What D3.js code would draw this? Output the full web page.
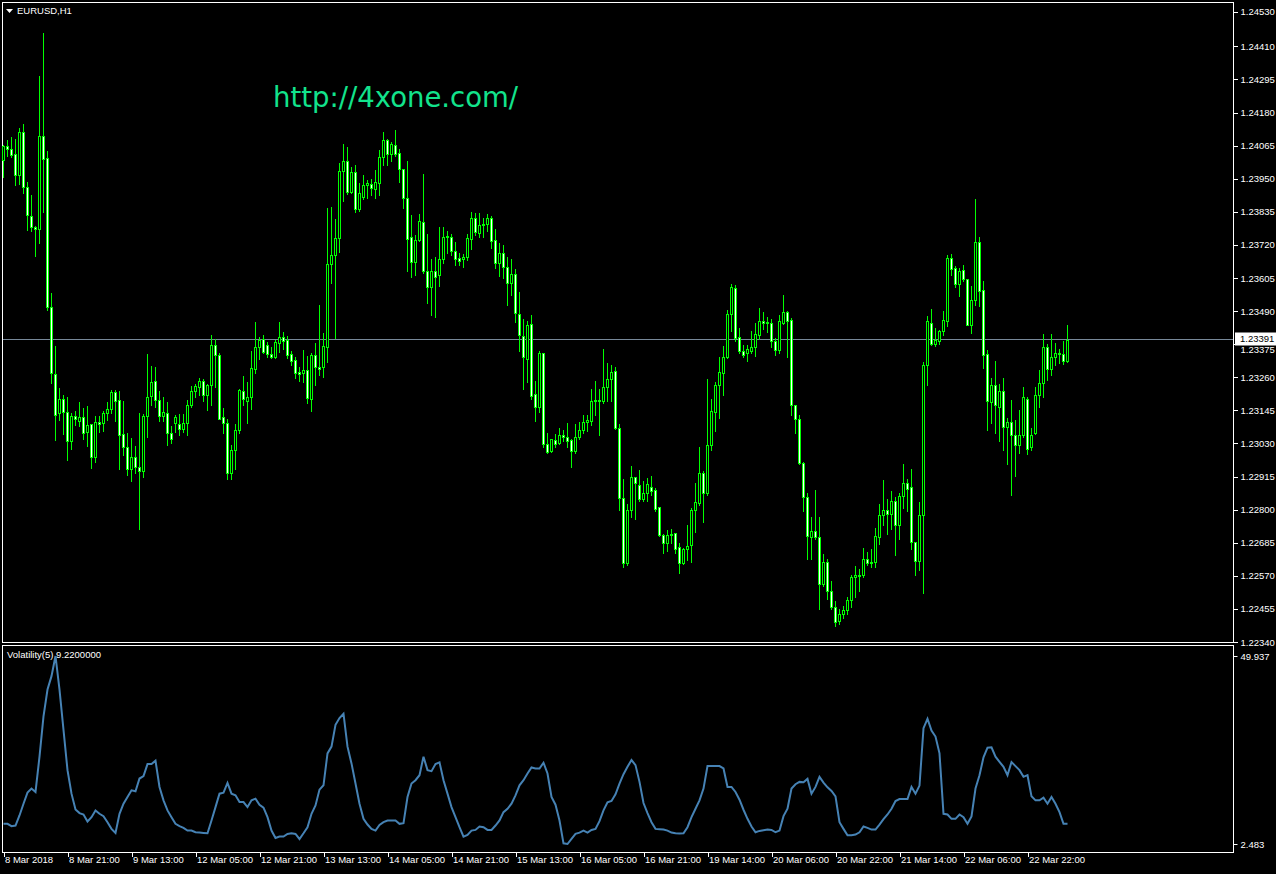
<!DOCTYPE html>
<html lang="en">
<head>
    <meta charset="UTF-8">
    <title>EURUSD,H1</title>
    <script src="https://d3js.org/d3.v7.min.js"></script>
    <style>
        body{margin: 0; background: #000}
        svg text{font-family: "Liberation Sans", Arial, sans-serif; font-size: 9.5px; fill: #fff}
        svg .frame{fill: none; stroke: #fff; stroke-width: 1}
        svg .wick{stroke: #00ff00; stroke-width: 1}
        svg .vol{fill: none; stroke: #4682b4; stroke-width: 2}
        svg .axis line{stroke: #fff}
        svg .axis path{display: none}
    </style>
</head>
<body>
    <svg></svg>
    <script>
        var symbol = 'EURUSD,H1'
        var indicatorName = 'Volatility(5) 9.2200000'
        var currentPrice = 1.23391

        var opens = [
            1.24015,1.24064,1.24054,1.24036,1.23962,1.24112,1.23922,1.23820,1.23783,1.23776,
            1.24098,1.24022,1.23505,1.23271,1.23135,1.23183,1.23139,1.23040,1.23125,1.23107,
            1.23121,1.23070,1.23098,1.22984,1.23105,1.23100,1.23135,1.23149,1.23209,1.23181,
            1.23063,1.23017,1.22942,1.22982,1.22947,1.22933,1.23125,1.23195,1.23246,1.23181,
            1.23125,1.23137,1.23065,1.23100,1.23098,1.23081,1.23102,1.23163,1.23211,1.23225,
            1.23246,1.23197,1.23232,1.23371,1.23336,1.23121,1.23100,1.22926,1.23007,1.23077,
            1.23211,1.23179,1.23190,1.23288,1.23364,1.23392,1.23371,1.23341,1.23332,1.23380,
            1.23399,1.23390,1.23341,1.23320,1.23278,1.23276,1.23285,1.23186,1.23336,1.23297,
            1.23297,1.23366,1.23654,1.23684,1.23744,1.23976,1.24011,1.23904,1.23973,1.23846,
            1.23888,1.23929,1.23932,1.23915,1.23936,1.24024,1.24085,1.24036,1.24066,1.24038,
            1.23983,1.23883,1.23746,1.23661,1.23737,1.23800,1.23628,1.23575,1.23628,1.23614,
            1.23670,1.23746,1.23749,1.23698,1.23674,1.23672,1.23677,1.23742,1.23813,1.23760,
            1.23788,1.23793,1.23813,1.23737,1.23656,1.23691,1.23642,1.23589,1.23619,1.23480,
            1.23403,1.23325,1.23445,1.23202,1.23158,1.23343,1.23028,1.23003,1.23042,1.23033,
            1.23058,1.23054,1.23042,1.23005,1.23054,1.23077,1.23105,1.23109,1.23177,1.23181,
            1.23179,1.23225,1.23253,1.23281,1.23084,1.22840,1.22614,1.22799,1.22912,1.22887,
            1.22838,1.22857,1.22878,1.22868,1.22808,1.22713,1.22685,1.22711,1.22718,1.22669,
            1.22616,1.22662,1.22676,1.22799,1.22824,1.22928,1.22857,1.23024,1.23139,1.23232,
            1.23276,1.23329,1.23480,1.23570,1.23399,1.23350,1.23343,1.23352,1.23364,1.23406,
            1.23455,1.23450,1.23450,1.23385,1.23355,1.23450,1.23487,1.23459,1.23163,1.23114,
            1.22963,1.22843,1.22706,1.22727,1.22706,1.22542,1.22618,1.22516,1.22461,1.22412,
            1.22437,1.22451,1.22486,1.22565,1.22574,1.22572,1.22630,1.22614,1.22618,1.22704,
            1.22782,1.22799,1.22785,1.22829,1.22746,1.22847,1.22891,1.22878,1.22688,1.22621,
            1.22780,1.23304,1.23450,1.23376,1.23387,1.23420,1.23457,1.23674,1.23640,1.23584,
            1.23633,1.23600,1.23443,1.23529,1.23730,1.23563,1.23341,1.23174,1.23234,1.23158,
            1.23211,1.23088,1.23105,1.23060,1.23024,1.23058,1.23186,1.23017,1.23065,1.23197,
            1.23239,1.23364,1.23290,1.23329,1.23343,1.23341,1.23316
        ]
        var highs = [
            1.24067,1.24085,1.24096,1.24089,1.24126,1.24140,1.23939,1.23894,1.23786,1.24307,
            1.24455,1.24047,1.23554,1.23369,1.23223,1.23199,1.23193,1.23137,1.23143,1.23174,
            1.23153,1.23160,1.23098,1.23125,1.23125,1.23144,1.23174,1.23216,1.23216,1.23211,
            1.23177,1.23065,1.23049,1.23021,1.23135,1.23132,1.23341,1.23299,1.23295,1.23213,
            1.23193,1.23174,1.23091,1.23128,1.23132,1.23132,1.23181,1.23230,1.23237,1.23257,
            1.23253,1.23237,1.23406,1.23394,1.23343,1.23153,1.23116,1.23026,1.23098,1.23220,
            1.23264,1.23244,1.23350,1.23452,1.23399,1.23406,1.23383,1.23364,1.23390,1.23452,
            1.23417,1.23403,1.23350,1.23332,1.23297,1.23355,1.23334,1.23343,1.23378,1.23512,
            1.23413,1.23848,1.23853,1.23811,1.24004,1.24071,1.24059,1.23990,1.23997,1.23934,
            1.23962,1.23946,1.23948,1.23980,1.24050,1.24112,1.24087,1.24078,1.24119,1.24054,
            1.23985,1.24011,1.23823,1.23753,1.23827,1.23966,1.23758,1.23670,1.23677,1.23781,
            1.23781,1.23767,1.23758,1.23730,1.23691,1.23688,1.23758,1.23834,1.23830,1.23830,
            1.23813,1.23827,1.23820,1.23776,1.23728,1.23719,1.23677,1.23670,1.23637,1.23556,
            1.23464,1.23455,1.23477,1.23248,1.23350,1.23345,1.23065,1.23047,1.23063,1.23084,
            1.23077,1.23100,1.23047,1.23098,1.23105,1.23128,1.23128,1.23218,1.23246,1.23218,
            1.23357,1.23311,1.23302,1.23295,1.23098,1.22905,1.22820,1.22952,1.22912,1.22938,
            1.22899,1.22910,1.22917,1.22875,1.22810,1.22715,1.22729,1.22734,1.22720,1.22683,
            1.22667,1.22748,1.22806,1.22891,1.23019,1.22933,1.23253,1.23183,1.23244,1.23329,
            1.23369,1.23494,1.23584,1.23582,1.23431,1.23373,1.23371,1.23420,1.23450,1.23501,
            1.23487,1.23471,1.23461,1.23396,1.23475,1.23547,1.23491,1.23466,1.23163,1.23128,
            1.22966,1.22857,1.22776,1.22868,1.22776,1.22646,1.22630,1.22553,1.22484,1.22456,
            1.22465,1.22495,1.22572,1.22604,1.22595,1.22667,1.22653,1.22664,1.22736,1.22820,
            1.22903,1.22836,1.22864,1.22845,1.22857,1.22959,1.22905,1.22940,1.22688,1.22827,
            1.23313,1.23473,1.23496,1.23431,1.23424,1.23491,1.23684,1.23688,1.23647,1.23640,
            1.23651,1.23600,1.23577,1.23881,1.23749,1.23596,1.23355,1.23257,1.23318,1.23237,
            1.23257,1.23118,1.23181,1.23112,1.23146,1.23225,1.23190,1.23084,1.23227,1.23285,
            1.23410,1.23376,1.23410,1.23378,1.23357,1.23385,1.23441
        ]
        var lows = [
            1.23956,1.24029,1.24026,1.23929,1.23932,1.23901,1.23772,1.23769,1.23681,1.23728,
            1.23834,1.23494,1.23239,1.23042,1.23112,1.23063,1.22973,1.23012,1.23094,1.23091,
            1.23047,1.23021,1.22945,1.22966,1.23070,1.23074,1.23112,1.23135,1.23107,1.22942,
            1.22989,1.22921,1.22901,1.22926,1.22732,1.22912,1.23054,1.23163,1.23158,1.23107,
            1.23107,1.23026,1.23031,1.23070,1.23058,1.23070,1.23060,1.23156,1.23190,1.23199,
            1.23179,1.23146,1.23163,1.23225,1.23114,1.23067,1.22905,1.22908,1.22942,1.23067,
            1.23165,1.23102,1.23151,1.23276,1.23325,1.23343,1.23332,1.23327,1.23327,1.23348,
            1.23359,1.23327,1.23304,1.23257,1.23248,1.23244,1.23172,1.23144,1.23234,1.23269,
            1.23260,1.23313,1.23587,1.23396,1.23695,1.23874,1.23897,1.23899,1.23834,1.23839,
            1.23881,1.23883,1.23892,1.23883,1.23894,1.23999,1.23999,1.24011,1.24029,1.23939,
            1.23848,1.23630,1.23610,1.23616,1.23733,1.23623,1.23519,1.23477,1.23468,1.23577,
            1.23658,1.23693,1.23686,1.23649,1.23649,1.23642,1.23667,1.23707,1.23755,1.23746,
            1.23749,1.23769,1.23709,1.23640,1.23612,1.23605,1.23512,1.23547,1.23452,1.23350,
            1.23220,1.23244,1.23186,1.23109,1.23139,1.23019,1.22998,1.23000,1.23019,1.23028,
            1.23038,1.23019,1.22949,1.22998,1.23044,1.23067,1.23074,1.23095,1.23128,1.23060,
            1.23172,1.23179,1.23179,1.23081,1.22799,1.22600,1.22609,1.22776,1.22769,1.22831,
            1.22831,1.22831,1.22852,1.22796,1.22708,1.22648,1.22657,1.22683,1.22650,1.22581,
            1.22611,1.22625,1.22618,1.22722,1.22817,1.22757,1.22850,1.23007,1.23074,1.23118,
            1.23199,1.23327,1.23422,1.23387,1.23343,1.23329,1.23318,1.23345,1.23334,1.23392,
            1.23429,1.23417,1.23366,1.23338,1.23345,1.23445,1.23332,1.23130,1.23067,1.22959,
            1.22796,1.22630,1.22630,1.22699,1.22456,1.22535,1.22491,1.22454,1.22396,1.22403,
            1.22422,1.22437,1.22463,1.22498,1.22518,1.22567,1.22607,1.22602,1.22602,1.22681,
            1.22746,1.22715,1.22732,1.22643,1.22697,1.22806,1.22794,1.22662,1.22572,1.22590,
            1.22509,1.23234,1.23373,1.23369,1.23376,1.23408,1.23438,1.23614,1.23575,1.23542,
            1.23594,1.23443,1.23413,1.23510,1.23508,1.23292,1.23077,1.23102,1.23065,1.23040,
            1.23007,1.22959,1.22852,1.22917,1.22996,1.23051,1.22993,1.23007,1.23063,1.23158,
            1.23193,1.23251,1.23267,1.23304,1.23311,1.23306,1.23313
        ]
        var closes = [
            1.24064,1.24054,1.24033,1.23962,1.24112,1.23922,1.23823,1.23783,1.23776,1.24098,
            1.24020,1.23505,1.23274,1.23130,1.23183,1.23139,1.23040,1.23125,1.23114,1.23123,
            1.23067,1.23093,1.22984,1.23105,1.23098,1.23135,1.23149,1.23209,1.23179,1.23058,
            1.23017,1.22940,1.22982,1.22947,1.22933,1.23125,1.23190,1.23244,1.23181,1.23125,
            1.23139,1.23065,1.23044,1.23121,1.23081,1.23102,1.23163,1.23211,1.23230,1.23246,
            1.23197,1.23232,1.23371,1.23336,1.23116,1.23100,1.22926,1.23007,1.23077,1.23216,
            1.23183,1.23190,1.23292,1.23364,1.23390,1.23348,1.23341,1.23332,1.23383,1.23399,
            1.23387,1.23338,1.23318,1.23274,1.23271,1.23285,1.23188,1.23336,1.23295,1.23290,
            1.23369,1.23654,1.23684,1.23744,1.23976,1.24011,1.23904,1.23973,1.23846,1.23899,
            1.23927,1.23936,1.23918,1.23939,1.24024,1.24085,1.24036,1.24071,1.24036,1.23983,
            1.23883,1.23742,1.23661,1.23737,1.23802,1.23630,1.23575,1.23628,1.23610,1.23670,
            1.23746,1.23751,1.23698,1.23672,1.23663,1.23679,1.23744,1.23813,1.23765,1.23788,
            1.23793,1.23813,1.23735,1.23656,1.23691,1.23644,1.23589,1.23619,1.23482,1.23406,
            1.23329,1.23443,1.23195,1.23158,1.23345,1.23028,1.23000,1.23044,1.23028,1.23058,
            1.23051,1.23038,1.23005,1.23054,1.23077,1.23105,1.23112,1.23177,1.23181,1.23177,
            1.23225,1.23253,1.23278,1.23084,1.22840,1.22614,1.22799,1.22912,1.22891,1.22838,
            1.22857,1.22889,1.22864,1.22803,1.22711,1.22685,1.22711,1.22715,1.22664,1.22616,
            1.22662,1.22674,1.22799,1.22827,1.22926,1.22857,1.23024,1.23142,1.23232,1.23278,
            1.23329,1.23480,1.23573,1.23396,1.23350,1.23338,1.23357,1.23364,1.23410,1.23457,
            1.23450,1.23452,1.23385,1.23355,1.23455,1.23487,1.23457,1.23163,1.23114,1.22961,
            1.22843,1.22708,1.22727,1.22704,1.22542,1.22618,1.22516,1.22461,1.22410,1.22437,
            1.22451,1.22486,1.22565,1.22574,1.22569,1.22627,1.22614,1.22618,1.22708,1.22782,
            1.22799,1.22785,1.22829,1.22746,1.22847,1.22891,1.22873,1.22688,1.22621,1.22780,
            1.23302,1.23455,1.23376,1.23390,1.23420,1.23459,1.23674,1.23637,1.23584,1.23628,
            1.23600,1.23443,1.23529,1.23730,1.23559,1.23336,1.23179,1.23232,1.23163,1.23211,
            1.23088,1.23105,1.23060,1.23024,1.23058,1.23190,1.23010,1.23058,1.23197,1.23239,
            1.23364,1.23290,1.23329,1.23343,1.23341,1.23316,1.23391
        ]
        var volatility = [
            7.57,7.57,6.98,7.14,9.69,12.65,15.45,16.47,15.62,24.52,
            34.68,41.46,44.85,49.937,41.46,31.29,21.13,15.19,11.21,10.28,
            9.94,8.16,9.26,10.96,10.11,9.52,7.99,6.30,5.28,10.11,
            12.65,14.35,16.04,15.79,19.01,19.60,22.65,22.65,23.50,16.89,
            13.50,10.96,9.26,7.57,6.98,6.55,5.87,5.87,5.45,5.36,
            5.28,5.19,8.42,11.80,15.19,15.45,17.91,15.19,14.77,13.08,
            13.08,11.80,13.50,13.92,12.40,11.64,9.26,5.87,4.01,4.35,
            4.35,5.03,5.19,5.03,3.75,5.19,6.72,10.11,12.23,16.21,
            17.31,25.36,27.06,32.57,34.26,35.36,27.06,22.82,17.74,12.65,
            8.84,7.40,6.30,5.87,7.31,7.99,8.42,8.42,8.42,7.57,
            7.74,14.35,17.74,18.58,19.85,24.52,21.13,20.87,22.65,23.08,
            18.58,15.19,11.80,9.26,6.72,4.35,4.77,5.87,6.04,6.89,
            6.72,6.04,6.04,7.14,8.42,10.53,11.38,12.65,14.77,17.31,
            18.58,20.28,21.80,21.55,21.55,22.99,20.28,14.35,12.40,8.42,
            2.65,2.483,3.75,5.03,5.36,5.87,5.36,6.04,6.30,8.25,
            10.96,12.99,13.33,15.03,17.74,20.11,21.97,23.67,22.40,18.16,
            12.82,10.28,7.99,6.30,6.21,6.13,5.87,5.36,5.19,5.11,
            5.19,6.72,9.26,11.38,13.50,16.47,22.14,22.14,22.14,22.14,
            21.55,16.89,16.89,15.62,13.67,11.13,8.84,6.89,5.45,5.79,
            5.96,6.13,6.04,5.45,5.87,9.52,11.38,16.47,17.57,18.16,
            18.08,18.92,15.19,16.89,19.43,17.99,16.80,15.87,14.52,7.99,
            6.30,4.69,4.69,4.86,5.45,6.89,6.55,6.13,6.13,7.40,
            8.75,9.94,11.38,13.33,13.84,13.84,13.84,16.89,15.19,17.23,
            31.72,34.09,31.13,29.60,25.36,10.11,9.94,8.84,8.84,9.94,
            9.26,7.57,9.43,16.47,19.85,24.35,26.80,26.89,24.52,23.24,
            21.97,19.85,23.16,22.14,21.13,19.43,19.85,14.52,13.50,13.50,
            14.18,12.65,14.35,12.65,10.53,7.57,7.57
        ]

        var priceTicks = [1.24530, 1.24410, 1.24295, 1.24180, 1.24065, 1.23950, 1.23835, 1.23720, 1.23605, 1.23490,
            1.23375, 1.23260, 1.23145, 1.23030, 1.22915, 1.22800, 1.22685, 1.22570, 1.22455, 1.22340]
        var volTicks = [49.937, 2.483]
        var timeTickIndex = [0, 16, 32, 48, 64, 80, 96, 112, 128, 144, 160, 176, 192, 208, 224, 240, 256]
        var timeTickLabels = ['8 Mar 2018', '8 Mar 21:00', '9 Mar 13:00', '12 Mar 05:00', '12 Mar 21:00', '13 Mar 13:00',
            '14 Mar 05:00', '14 Mar 21:00', '15 Mar 13:00', '16 Mar 05:00', '16 Mar 21:00', '19 Mar 14:00',
            '20 Mar 06:00', '20 Mar 22:00', '21 Mar 14:00', '22 Mar 06:00', '22 Mar 22:00']

        var width = 1276, height = 874
        // panel edges
        var left = 2, right = 1233
        var mainTop = 2, mainBottom = 642
        var subTop = 645, subBottom = 852

        var svg = d3.select('svg')
            .attr('width', width)
            .attr('height', height)
            .style('background', '#000')
            .style('display', 'block')

        var n = closes.length
        var x = d3.scaleLinear().domain([0, n - 1]).range([3, 3 + 4 * (n - 1)])
        var y = d3.scaleLinear().domain([1.22340, 1.24530]).range([642, 11.8])
        var yVol = d3.scaleLinear().domain([2.483, 49.937]).range([844, 656])

        var bars = d3.range(n).map(i => ({
            i: i, o: opens[i], h: highs[i], l: lows[i], c: closes[i]
        }))

        // frames
        svg.append('rect').attr('class', 'frame')
            .attr('x', left + 0.5).attr('y', mainTop + 0.5)
            .attr('width', right - left).attr('height', mainBottom - mainTop)
        svg.append('rect').attr('class', 'frame')
            .attr('x', left + 0.5).attr('y', subTop + 0.5)
            .attr('width', right - left).attr('height', subBottom - subTop)

        // current price line
        var cy = Math.floor(y(currentPrice)) + 0.5
        svg.append('line')
            .attr('x1', left + 1).attr('x2', right)
            .attr('y1', cy).attr('y2', cy)
            .attr('stroke', '#778899')

        // candles
        var candles = svg.append('g').attr('shape-rendering', 'crispEdges')
        candles.selectAll('.wick')
            .data(bars)
            .enter()
            .append('line')
            .attr('class', 'wick')
            .attr('x1', d => x(d.i) + 0.5)
            .attr('x2', d => x(d.i) + 0.5)
            .attr('y1', d => Math.round(y(d.h)))
            .attr('y2', d => Math.round(y(d.l)) + 1)

        candles.selectAll('.body')
            .data(bars)
            .enter()
            .append('rect')
            .attr('class', 'body')
            .attr('x', d => x(d.i) - 1)
            .attr('width', 3)
            .attr('y', d => Math.round(y(Math.max(d.o, d.c))))
            .attr('height', d => Math.round(y(Math.min(d.o, d.c))) - Math.round(y(Math.max(d.o, d.c))) + 1)
            .attr('fill', '#00ff00')

        candles.selectAll('.inner')
            .data(bars.filter(d => Math.round(y(Math.min(d.o, d.c))) - Math.round(y(Math.max(d.o, d.c))) >= 2))
            .enter()
            .append('rect')
            .attr('class', 'inner')
            .attr('x', d => x(d.i))
            .attr('width', 1)
            .attr('y', d => Math.round(y(Math.max(d.o, d.c))) + 1)
            .attr('height', d => Math.round(y(Math.min(d.o, d.c))) - Math.round(y(Math.max(d.o, d.c))) - 1)
            .attr('fill', d => d.c >= d.o ? '#000' : '#fff')

        // price axis
        var yAxis = d3.axisRight(y)
            .tickValues(priceTicks)
            .tickSize(4)
            .tickFormat(d3.format('.5f'))
        var gy = svg.append('g')
            .attr('class', 'axis')
            .attr('transform', `translate(${right + 0.5}, 0)`)
            .call(yAxis)
        gy.selectAll('text').attr('x', 7)
        gy.selectAll('line').attr('shape-rendering', 'crispEdges')
        // the tick under the current price box is only partly visible
        gy.selectAll('.tick')
            .filter(d => Math.abs(y(d) - y(currentPrice)) < 8)
            .select('text')
            .attr('dy', '0.9em')

        // current price label
        svg.append('rect')
            .attr('x', right + 2).attr('y', cy - 7)
            .attr('width', 41).attr('height', 13)
            .attr('fill', '#fff')
        svg.append('text')
            .attr('x', right + 7).attr('y', cy - 0.5)
            .attr('dy', '0.35em')
            .style('fill', '#000')
            .text(d3.format('.5f')(currentPrice))

        // indicator axis
        var gv = svg.append('g')
            .attr('class', 'axis')
            .attr('transform', `translate(${right + 0.5}, 0)`)
            .call(d3.axisRight(yVol).tickValues(volTicks).tickSize(4).tickFormat(d3.format('.3f')))
        gv.selectAll('text').attr('x', 7)

        // time axis
        var xAxis = d3.axisBottom(x)
            .tickValues(timeTickIndex)
            .tickSize(4)
            .tickFormat((d, i) => timeTickLabels[i])
        var gx = svg.append('g')
            .attr('class', 'axis')
            .attr('transform', `translate(0.5, ${subBottom + 0.5})`)
            .call(xAxis)
        gx.selectAll('text')
            .attr('text-anchor', 'start')
            .attr('x', 1)
            .attr('y', 4)
        gx.selectAll('line').attr('shape-rendering', 'crispEdges')

        // volatility line
        var line = d3.line()
            .x((d, i) => x(i) + 0.5)
            .y(d => yVol(d))
        svg.append('path')
            .datum(volatility)
            .attr('class', 'vol')
            .attr('d', line)

        // titles
        svg.append('path')
            .attr('d', 'M6,9 L13,9 L9.5,13 Z')
            .attr('fill', '#fff')
        svg.append('text')
            .attr('x', 17).attr('y', 11)
            .attr('dy', '0.35em')
            .text(symbol)
        svg.append('text')
            .attr('x', 7).attr('y', 654.5)
            .attr('dy', '0.35em')
            .text(indicatorName)

        // watermark
        svg.append('text')
            .attr('x', 273).attr('y', 107)
            .style('font-family', '"DejaVu Sans", sans-serif')
            .style('font-size', '27.5px')
            .style('fill', '#12e38c')
            .text('http://4xone.com/')
    </script>
</body>
</html>
